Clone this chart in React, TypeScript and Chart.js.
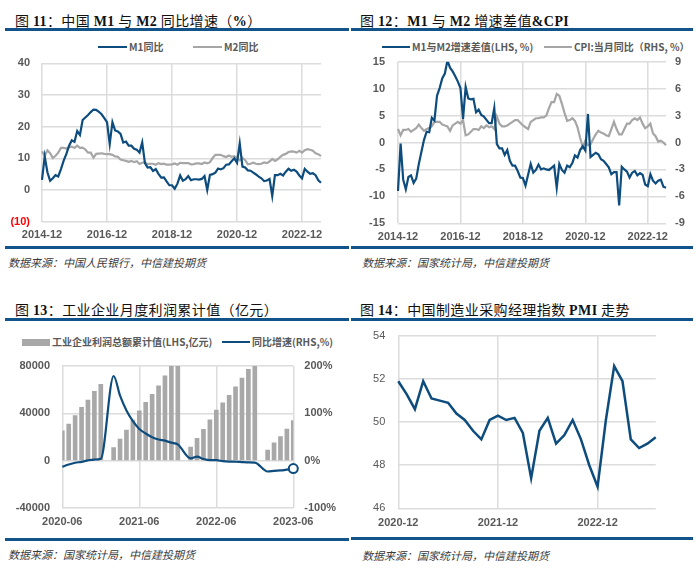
import React, { useEffect, useRef } from "react";
import { Chart, registerables } from "chart.js";

Chart.register(...registerables);

// ---------- categories ----------
function monthSpan(start: string, end: string): string[] {
  const [sy, sm] = start.split("-").map(Number);
  const [ey, em] = end.split("-").map(Number);
  const out: string[] = [];
  let y = sy;
  let m = sm;
  while (y < ey || (y === ey && m <= em)) {
    out.push(`${y}-${String(m).padStart(2, "0")}`);
    m += 1;
    if (m > 12) {
      m = 1;
      y += 1;
    }
  }
  return out;
}

const moneyMonths = monthSpan("2014-12", "2023-07");
const profitMonths = monthSpan("2020-06", "2023-06");
const pmiMonths = monthSpan("2020-12", "2023-07");

// ---------- series (%, 亿元, index) ----------
const m1Yoy = [
  3.2,
  10.6, 5.6, 2.9, 3.7, 4.7, 4.3, 6.6, 9.3, 11.4, 14.0, 15.7, 15.2,
  18.6, 17.4, 22.1, 22.9, 23.7, 24.6, 25.4, 25.3, 24.7, 23.9, 22.7, 21.4,
  14.5, 21.4, 18.8, 18.5, 17.7, 15.0, 15.3, 14.0, 14.0, 13.0, 12.7, 11.8,
  15.0, 8.5, 7.1, 7.2, 6.0, 6.6, 5.1, 3.9, 4.0, 2.7, 1.5, 1.5,
  0.4, 2.0, 4.6, 2.9, 3.4, 4.4, 3.1, 3.4, 3.4, 3.3, 3.5, 4.4,
  0.0, 4.8, 5.0, 5.5, 6.8, 6.5, 6.9, 8.0, 8.1, 9.1, 10.0, 8.6,
  14.7, 7.4, 7.1, 6.2, 6.1, 5.5, 4.9, 4.2, 3.7, 2.8, 3.0, 3.5,
  -1.9, 4.7, 4.7, 5.1, 4.6, 5.8, 6.7, 6.1, 6.4, 5.8, 4.6, 3.7,
  6.7, 5.8, 5.1, 5.3, 4.7, 3.1, 2.3,
];

const m2Yoy = [
  12.2,
  10.8, 12.5, 11.6, 10.1, 10.8, 11.8, 13.3, 13.3, 13.1, 13.5, 13.7, 13.3,
  14.0, 13.3, 13.4, 12.8, 11.8, 11.8, 10.2, 11.4, 11.5, 11.6, 11.4, 11.3,
  11.3, 11.1, 10.6, 10.5, 9.6, 9.4, 9.2, 8.9, 9.2, 8.8, 9.1, 8.2,
  8.6, 8.8, 8.2, 8.3, 8.3, 8.0, 8.5, 8.2, 8.3, 8.0, 8.0, 8.1,
  8.4, 8.0, 8.6, 8.5, 8.5, 8.5, 8.1, 8.2, 8.4, 8.4, 8.2, 8.7,
  8.4, 8.8, 10.1, 11.1, 11.1, 11.1, 10.7, 10.4, 10.9, 10.5, 10.7, 10.1,
  9.4, 10.1, 9.4, 8.1, 8.3, 8.6, 8.3, 8.2, 8.3, 8.7, 8.5, 9.0,
  9.8, 9.2, 9.7, 10.5, 11.1, 11.4, 12.0, 12.2, 12.1, 11.8, 12.4, 11.8,
  12.6, 12.9, 12.7, 12.4, 11.6, 11.3, 10.7,
];

const m1m2Gap = [
  -9.0,
  -0.2, -6.9, -8.7, -6.4, -6.1, -7.5, -6.7, -4.0, -1.7, 0.5, 2.0, 1.9,
  4.6, 4.1, 8.7, 10.1, 11.9, 12.8, 15.2, 13.9, 13.2, 12.3, 11.3, 10.1,
  4.4, 10.3, 8.2, 8.0, 8.1, 5.6, 6.1, 5.1, 4.8, 4.2, 3.6, 3.6,
  6.4, -0.3, -1.1, -1.1, -2.3, -1.4, -3.4, -4.3, -4.3, -5.3, -6.5, -6.6,
  -8.0, -6.0, -4.0, -5.6, -5.1, -4.1, -5.0, -4.8, -5.0, -5.1, -4.7, -4.3,
  -8.4, -4.0, -5.1, -5.6, -4.3, -4.6, -3.8, -2.4, -2.8, -1.4, -0.7, -1.5,
  5.3, -2.7, -2.3, -1.9, -2.2, -3.1, -3.4, -4.0, -4.6, -5.9, -5.5, -5.5,
  -11.7, -4.5, -5.0, -5.4, -6.5, -5.6, -5.3, -6.1, -5.7, -6.0, -7.8, -8.1,
  -5.9, -7.1, -7.6, -7.1, -6.9, -8.2, -8.4,
];

const cpiYoy = [
  1.5,
  0.8, 1.4, 1.4, 1.5, 1.2, 1.4, 1.6, 2.0, 1.6, 1.3, 1.5, 1.6,
  1.8, 2.3, 2.3, 2.3, 2.0, 1.9, 1.8, 1.3, 1.9, 2.1, 2.3, 2.1,
  2.5, 0.8, 0.9, 1.2, 1.5, 1.5, 1.4, 1.8, 1.6, 1.9, 1.7, 1.8,
  1.5, 2.9, 2.1, 1.8, 1.8, 1.9, 2.1, 2.3, 2.5, 2.5, 2.2, 1.9,
  1.7, 1.5, 2.3, 2.5, 2.7, 2.7, 2.8, 2.8, 3.0, 3.8, 4.5, 4.5,
  5.4, 5.2, 4.3, 3.3, 2.4, 2.5, 2.7, 2.4, 1.7, 0.5, -0.5, 0.2,
  -0.3, -0.2, 0.4, 0.9, 1.3, 1.1, 1.0, 0.8, 0.7, 1.5, 2.3, 1.5,
  0.9, 0.9, 1.5, 2.1, 2.1, 2.5, 2.7, 2.5, 2.8, 2.1, 1.6, 1.8,
  2.1, 1.0, 0.7, 0.1, 0.2, 0.0, -0.3,
];

// cumulative profit, 亿元 (January not published separately)
const profitCum = [
  25115, 31022, 38165, 45045, 51159, 58534, 64516,
  null, 11140, 18253, 25944, 34247, 42183, 49240, 56051, 63154, 71649, 79750, 87092,
  null, 11575, 18977, 26582, 34410, 42702, 48929, 55254, 62442, 69769, 77179, 84039,
  null, 8872, 15167, 20328, 26688, 33884,
];

const profitYoy = [
  -12.8, -8.1, -4.4, -2.4, 0.7, 2.4, 4.1,
  null, 178.9, 137.3, 106.0, 83.4, 66.9, 57.3, 49.5, 44.7, 42.2, 38.0, 34.3,
  null, 5.0, 8.5, 3.5, 1.0, 1.0, -1.1, -2.1, -2.3, -3.0, -3.6, -4.0,
  null, -22.9, -21.4, -20.6, -18.8, -16.8,
];

const pmi = [
  51.9,
  51.3, 50.6, 51.9, 51.1, 51.0, 50.9, 50.4, 50.1, 49.6, 49.2, 50.1, 50.3,
  50.1, 50.2, 49.5, 47.4, 49.6, 50.2, 49.0, 49.4, 50.1, 49.2, 48.0, 47.0,
  50.1, 52.6, 51.9, 49.2, 48.8, 49.0, 49.3,
];

// ---------- style ----------
const BLUE = "#0D4C7D";
const RULE = "#12548A";
const LINE_GRAY = "#A6A6A6";
const BAR_GRAY = "#A8A8A8";
const GRID = "#DCDCDC";
const TICK = "#595959";
const RED = "#FF0000";
const FONT_NUM = "'Liberation Sans', Arial, sans-serif";
const FONT_CJK = "'Noto Sans CJK SC', 'Noto Sans', sans-serif";
const FONT_SERIF = "'Liberation Serif', 'DejaVu Serif', serif";

Chart.defaults.font.family = FONT_NUM;

const tickFont = { family: FONT_NUM, size: 11, weight: "bold" as const };
const gridOpts = { color: GRID, lineWidth: 1.5, drawTicks: false };
const noBorder = { display: false };

// pin axis sizes so the plot area lands exactly where wanted
const fit = (w?: number, h?: number) => (s: any) => {
  if (w !== undefined) s.width = w;
  if (h !== undefined) s.height = h;
  s.paddingTop = 0;
  s.paddingBottom = 0;
  s.paddingLeft = 0;
  s.paddingRight = 0;
};

const xAxis = (every: number, height: number, pad: number) => ({
  type: "category" as const,
  afterBuildTicks: (s: any) => {
    s.ticks = s.ticks.filter((t: any) => t.value % every === 0);
  },
  afterFit: fit(undefined, height),
  grid: { ...gridOpts },
  border: noBorder,
  ticks: {
    autoSkip: false,
    maxRotation: 0,
    minRotation: 0,
    padding: pad,
    font: tickFont,
    color: TICK,
  },
});

const baseOptions = {
  animation: false as const,
  responsive: false,
  events: [] as any[],
  plugins: { legend: { display: false }, tooltip: { enabled: false } },
};

const moneyConfig = (): any => ({
  type: "line",
  data: {
    labels: moneyMonths,
    datasets: [
      { label: "M1同比", data: m1Yoy, borderColor: BLUE, borderWidth: 2.2, pointRadius: 0 },
      { label: "M2同比", data: m2Yoy, borderColor: LINE_GRAY, borderWidth: 2.2, pointRadius: 0 },
    ],
  },
  options: {
    ...baseOptions,
    layout: { padding: { top: 8.3, right: 27, bottom: 0, left: 0 } },
    scales: {
      x: xAxis(24, 23.3, 6.7),
      y: {
        min: -10,
        max: 40,
        afterFit: fit(42),
        grid: gridOpts,
        border: noBorder,
        ticks: {
          stepSize: 10,
          padding: 12,
          font: tickFont,
          color: (c: any) => (c.tick && c.tick.value < 0 ? RED : TICK),
          callback: (v: any) => (v < 0 ? `(${-v})` : String(v)),
        },
      },
    },
  },
});

const gapConfig = (): any => ({
  type: "line",
  data: {
    labels: moneyMonths,
    datasets: [
      { label: "M1与M2增速差值(LHS, %)", data: m1m2Gap, yAxisID: "y", borderColor: BLUE, borderWidth: 2.2, pointRadius: 0 },
      { label: "CPI:当月同比（RHS, %）", data: cpiYoy, yAxisID: "y1", borderColor: LINE_GRAY, borderWidth: 2.2, pointRadius: 0 },
    ],
  },
  options: {
    ...baseOptions,
    layout: { padding: { top: 6.7, right: 0, bottom: 0, left: 0 } },
    scales: {
      x: xAxis(24, 21.7, 6.8),
      y: {
        min: -15,
        max: 15,
        afterFit: fit(48),
        grid: gridOpts,
        border: noBorder,
        ticks: { stepSize: 5, padding: 13, font: tickFont, color: TICK },
      },
      y1: {
        position: "right",
        min: -9,
        max: 9,
        afterFit: fit(31),
        grid: { display: false, drawTicks: false },
        border: noBorder,
        ticks: { stepSize: 3, padding: 9, font: tickFont, color: TICK },
      },
    },
  },
});

const profitConfig = (): any => ({
  type: "bar",
  data: {
    labels: profitMonths,
    datasets: [
      {
        type: "line",
        label: "同比增速(RHS,%)",
        data: profitYoy,
        yAxisID: "y1",
        borderColor: BLUE,
        borderWidth: 2.2,
        spanGaps: true,
        cubicInterpolationMode: "monotone",
        pointRadius: (c: any) => (c.dataIndex === profitYoy.length - 1 ? 4.5 : 0),
        pointBackgroundColor: "#FFFFFF",
        pointBorderColor: BLUE,
        pointBorderWidth: 2,
        clip: false,
        order: 0,
      },
      {
        type: "bar",
        label: "工业企业利润总额累计值(LHS,亿元)",
        data: profitCum,
        yAxisID: "y",
        backgroundColor: BAR_GRAY,
        barThickness: 4,
        clip: 0,
        order: 1,
      },
    ],
  },
  options: {
    ...baseOptions,
    layout: { padding: { top: 11, right: 0, bottom: 0, left: 0 } },
    scales: {
      x: { ...xAxis(12, 27, 7.7), offset: false, grid: { ...gridOpts, offset: false } },
      y: {
        min: -40000,
        max: 80000,
        afterFit: fit(62.3),
        grid: gridOpts,
        border: noBorder,
        ticks: { stepSize: 40000, padding: 12.3, font: tickFont, color: TICK, callback: (v: any) => String(v) },
      },
      y1: {
        position: "right",
        min: -100,
        max: 200,
        afterFit: fit(54.7),
        grid: { display: false, drawTicks: false },
        border: noBorder,
        ticks: { stepSize: 100, padding: 11, font: tickFont, color: TICK, callback: (v: any) => `${v}%` },
      },
    },
  },
});

const pmiConfig = (): any => ({
  type: "line",
  data: {
    labels: pmiMonths,
    datasets: [{ label: "PMI", data: pmi, borderColor: BLUE, borderWidth: 2.5, pointRadius: 0 }],
  },
  options: {
    ...baseOptions,
    layout: { padding: { top: 11, right: 41.3, bottom: 0, left: 0 } },
    scales: {
      x: xAxis(12, 26.7, 8.4),
      y: {
        min: 46,
        max: 54,
        afterFit: fit(48.3),
        grid: gridOpts,
        border: noBorder,
        ticks: { stepSize: 2, padding: 13, font: { family: FONT_NUM, size: 11, weight: "normal" }, color: TICK },
      },
    },
  },
});

// ---------- pieces ----------
function ChartCanvas({ x, y, w, h, config }: { x: number; y: number; w: number; h: number; config: () => any }) {
  const ref = useRef<HTMLCanvasElement | null>(null);
  useEffect(() => {
    if (!ref.current) return;
    const chart = new Chart(ref.current, config());
    return () => chart.destroy();
  }, []);
  return (
    <canvas
      ref={ref}
      width={w}
      height={h}
      style={{ position: "absolute", left: x, top: y, width: w, height: h }}
    />
  );
}

const Lat = ({ children }: { children: React.ReactNode }) => (
  <span style={{ fontFamily: FONT_SERIF, fontWeight: "bold" }}>{children}</span>
);

function Title({ x, cy, children }: { x: number; cy: number; children: React.ReactNode }) {
  return (
    <div
      style={{
        position: "absolute",
        left: x,
        top: cy - 10,
        height: 20,
        lineHeight: "20px",
        fontFamily: FONT_CJK,
        fontSize: 14,
        letterSpacing: 0.4,
        color: "#111111",
        whiteSpace: "nowrap",
      }}
    >
      {children}
    </div>
  );
}

function Rule({ x, y, w }: { x: number; y: number; w: number }) {
  return <div style={{ position: "absolute", left: x, top: y, width: w, height: 3, background: RULE }} />;
}

function Swatch({ x, cy, w, h, color }: { x: number; cy: number; w: number; h: number; color: string }) {
  return <div style={{ position: "absolute", left: x, top: cy - h / 2, width: w, height: h, background: color }} />;
}

function Label({ x, cy, children, size = 10 }: { x: number; cy: number; children: React.ReactNode; size?: number }) {
  return (
    <div
      style={{
        position: "absolute",
        left: x,
        top: cy - 8,
        height: 16,
        lineHeight: "16px",
        fontFamily: FONT_CJK,
        fontSize: size,
        fontWeight: "bold",
        color: TICK,
        whiteSpace: "nowrap",
      }}
    >
      {children}
    </div>
  );
}

function Source({ x, cy, children }: { x: number; cy: number; children: React.ReactNode }) {
  return (
    <div
      style={{
        position: "absolute",
        left: x,
        top: cy - 8,
        height: 16,
        lineHeight: "16px",
        fontFamily: FONT_CJK,
        fontSize: 11,
        fontStyle: "italic",
        color: "#3A3A3A",
        whiteSpace: "nowrap",
      }}
    >
      {children}
    </div>
  );
}

export default function App() {
  return (
    <div style={{ position: "absolute", left: 0, top: 0, width: 697, height: 574, background: "#FFFFFF", overflow: "hidden" }}>
      {/* 图 11 */}
      <Title x={15} cy={20}>
        图 <Lat>11</Lat>：中国 <Lat>M1</Lat> 与 <Lat>M2</Lat> 同比增速（<Lat>%</Lat>）
      </Title>
      <Rule x={5} y={28} w={344} />
      <Swatch x={98} cy={47} w={29} h={2.5} color={BLUE} />
      <Label x={129} cy={47}>M1同比</Label>
      <Swatch x={193} cy={47} w={29} h={2.5} color={LINE_GRAY} />
      <Label x={224} cy={47}>M2同比</Label>
      <ChartCanvas x={0} y={55} w={348} h={190} config={moneyConfig} />
      <Rule x={5} y={245.5} w={344} />
      <Source x={8} cy={262}>数据来源：中国人民银行，中信建投期货</Source>

      {/* 图 12 */}
      <Title x={360} cy={20}>
        图 <Lat>12</Lat>：<Lat>M1</Lat> 与 <Lat>M2</Lat> 增速差值<Lat>&amp;CPI</Lat>
      </Title>
      <Rule x={351} y={28} w={342} />
      <Swatch x={382} cy={47} w={28} h={2.5} color={BLUE} />
      <Label x={412} cy={47}>M1与M2增速差值(LHS, %)</Label>
      <Swatch x={544} cy={47} w={28} h={2.5} color={LINE_GRAY} />
      <Label x={574} cy={47}>CPI:当月同比（RHS, %）</Label>
      <ChartCanvas x={350} y={55} w={347} h={190} config={gapConfig} />
      <Rule x={351} y={245.5} w={342} />
      <Source x={362} cy={262}>数据来源：国家统计局，中信建投期货</Source>

      {/* 图 13 */}
      <Title x={15} cy={309}>
        图 <Lat>13</Lat>：工业企业月度利润累计值（亿元）
      </Title>
      <Rule x={5} y={318} w={344} />
      <Swatch x={22} cy={342} w={28} h={7} color={BAR_GRAY} />
      <Label x={52} cy={342}>工业企业利润总额累计值(LHS,亿元)</Label>
      <Swatch x={222} cy={342} w={28} h={2.5} color={BLUE} />
      <Label x={252} cy={342}>同比增速(RHS,%)</Label>
      <ChartCanvas x={0} y={355} w={348} h={180} config={profitConfig} />
      <Rule x={5} y={537.5} w={344} />
      <Source x={8} cy={553.5}>数据来源：国家统计局，中信建投期货</Source>

      {/* 图 14 */}
      <Title x={360} cy={309}>
        图 <Lat>14</Lat>：中国制造业采购经理指数 <Lat>PMI</Lat> 走势
      </Title>
      <Rule x={351} y={318} w={342} />
      <ChartCanvas x={350} y={325} w={347} h={210} config={pmiConfig} />
      <Rule x={351} y={537} w={342} />
      <Source x={362} cy={555}>数据来源：国家统计局，中信建投期货</Source>
    </div>
  );
}
